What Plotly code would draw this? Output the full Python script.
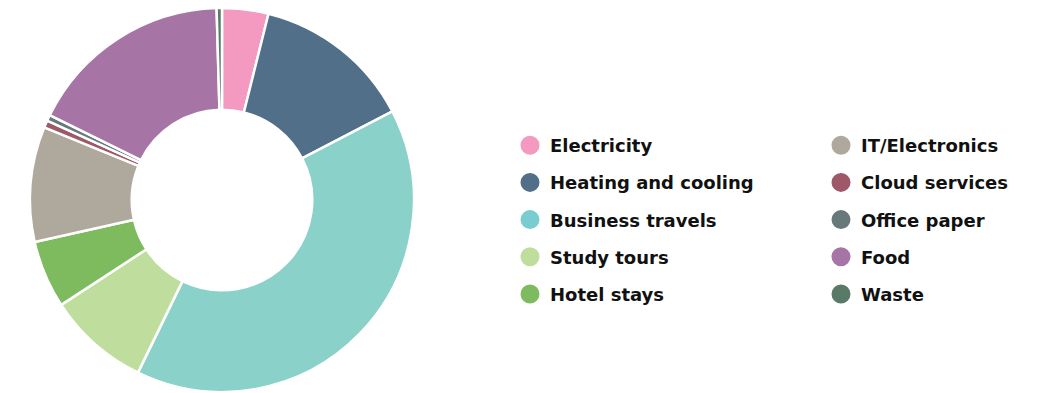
import plotly.graph_objects as go

categories = ["Electricity", "Heating and cooling", "Business travels", "Study tours",
              "Hotel stays", "IT/Electronics", "Cloud services", "Office paper", "Food", "Waste"]
values = [3.9, 13.5, 39.9, 8.6, 5.7, 9.7, 0.6, 0.5, 17.3, 0.45]
colors = ["#F49AC1", "#526F89", "#8AD1C9", "#BFDE9E", "#7DBB5E",
          "#AFA89C", "#9E5867", "#67797A", "#A675A6", "#587A66"]
legend_colors = ["#F49AC1", "#526F89", "#79CDD1", "#BFDE9E", "#7DBB5E",
                 "#AFA89C", "#9E5867", "#67797A", "#A675A6", "#587A66"]

W, H = 1039, 393
fig = go.Figure()
fig.add_trace(go.Pie(
    labels=categories, values=values, sort=False, direction="clockwise", rotation=0,
    hole=0.47, textinfo="none", showlegend=False,
    marker=dict(colors=colors, line=dict(color="white", width=2.5)),
    domain=dict(x=[30 / W, 414 / W], y=[1 - 392 / H, 1 - 8 / H]),
))

for i, (name, c) in enumerate(zip(categories, legend_colors)):
    fig.add_trace(go.Scatter(
        x=[None], y=[None], mode="markers", name=name,
        marker=dict(size=16, color=c, line=dict(color=c, width=3)),
        legend="legend" if i < 5 else "legend2", legendgroup=name,
    ))

legend_common = dict(
    orientation="v", yanchor="middle", y=1 - 220 / H, xanchor="left",
    font=dict(family="DejaVu Sans", size=18, color="#111111", weight="bold"),
    tracegroupgap=10.8, bgcolor="rgba(0,0,0,0)", itemclick=False, itemdoubleclick=False,
)
fig.update_layout(
    width=W, height=H, margin=dict(l=0, r=0, t=0, b=0),
    paper_bgcolor="white", plot_bgcolor="white",
    xaxis=dict(visible=False), yaxis=dict(visible=False),
    legend=dict(x=(509 + 1) / W, **legend_common),
    legend2=dict(x=(820 + 1) / W, **legend_common),
)
fig.write_html("out.html")
